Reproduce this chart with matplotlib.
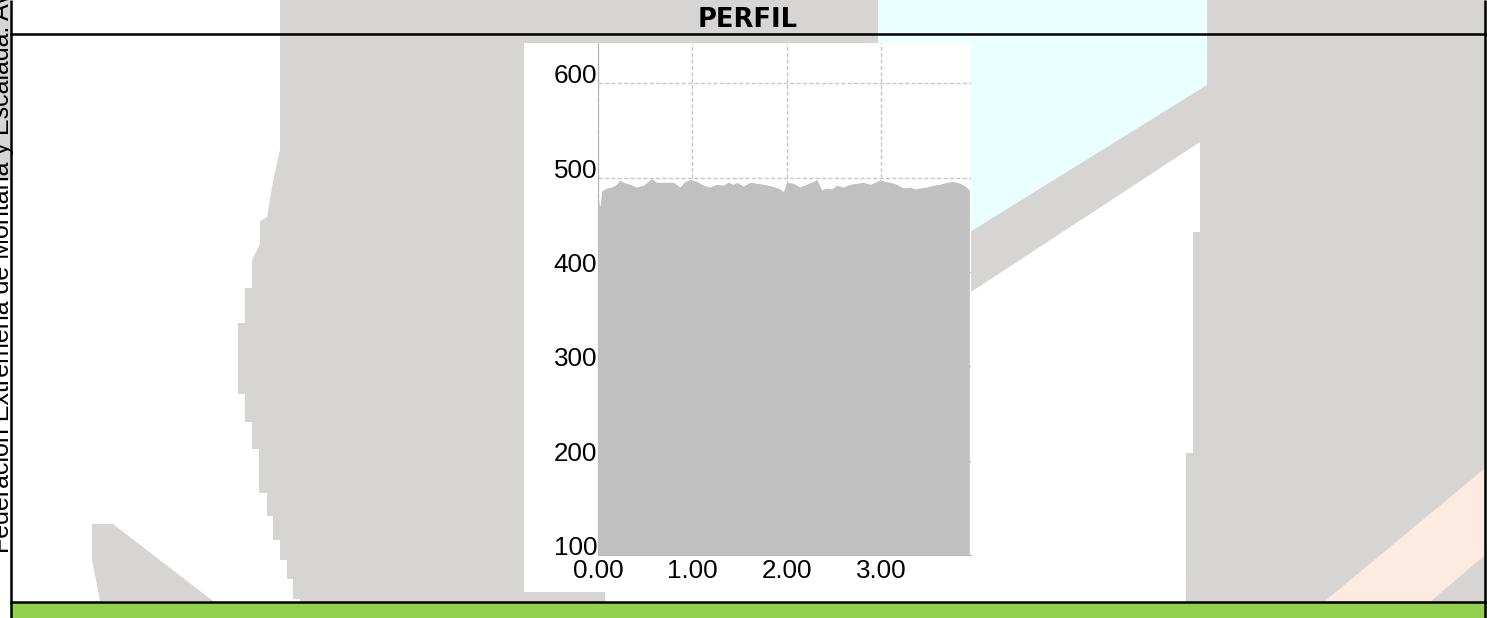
import matplotlib
matplotlib.use('Agg')
import matplotlib.pyplot as plt
from matplotlib.patches import Polygon, Rectangle

# perfil: distancia (km) y altitud (m)
dist = [0.00, 0.02, 0.04, 0.09, 0.145, 0.197, 0.233, 0.269, 0.339, 0.410,
        0.481, 0.534, 0.569, 0.622, 0.693, 0.799, 0.870, 0.923, 0.976, 1.046,
        1.117, 1.188, 1.258, 1.329, 1.382, 1.435, 1.471, 1.541, 1.612, 1.683,
        1.753, 1.824, 1.877, 1.930, 1.965, 2.001, 2.072, 2.142, 2.213, 2.284,
        2.319, 2.372, 2.425, 2.478, 2.531, 2.602, 2.673, 2.743, 2.814, 2.885,
        2.938, 2.991, 3.044, 3.097, 3.167, 3.238, 3.309, 3.362, 3.415, 3.486,
        3.556, 3.627, 3.698, 3.769, 3.839, 3.892, 3.938]
elev = [478, 469, 486, 489, 490, 493, 497.5, 495, 493, 490,
        492, 496, 499, 495, 495, 495, 490, 496, 498, 496,
        492, 490, 493, 492, 495, 493, 495, 491, 495, 494,
        493, 491.5, 490, 488, 485, 495, 494, 490, 493, 496,
        498, 487, 489, 488, 492, 490, 493, 494, 495, 493,
        495, 498, 496, 495, 493, 489, 490, 488, 489, 490,
        492, 493, 495, 496, 494, 491, 487]

yticks = [100, 200, 300, 400, 500, 600]
xticks = [0, 1, 2, 3]
xlabels = ['0.00', '1.00', '2.00', '3.00']

W, H = 1487, 618
fig = plt.figure(figsize=(W / 100, H / 100), dpi=100, facecolor='white')

# fondo (marca de agua del documento), en pixeles
bg = fig.add_axes([0, 0, 1, 1])
bg.set_xlim(0, W)
bg.set_ylim(H, 0)
bg.axis('off')

gris = '#d6d5d3'
curva = [(280, 0), (280, 150), (273, 181), (267, 217), (260, 221), (260, 244),
         (252, 260), (252, 288), (245, 288), (245, 323), (238, 323), (238, 394),
         (245, 394), (245, 422), (252, 422), (252, 449), (259, 449), (259, 493),
         (267, 493), (267, 516), (273, 516), (273, 540), (280, 540), (280, 560),
         (287, 560), (287, 579), (293, 579), (293, 599), (300, 599), (300, H)]
bg.add_patch(Polygon(curva + [(W, H), (W, 0)], closed=True, fc=gris, ec='none'))
bg.add_patch(Polygon([(878, 0), (1207, 0), (1207, 85), (878, 289)], closed=True,
                     fc='#eaffff', ec='none'))
bg.add_patch(Polygon([(971, 292), (1200, 142), (1200, 232), (1193, 232), (1193, 453),
                      (1186, 453), (1186, H), (605, H), (605, 592)], closed=True,
                     fc='white', ec='none'))
bg.add_patch(Polygon([(1325, 601), (1484, 469), (1484, 556), (1431, 601)], closed=True,
                     fc='#fdebe1', ec='none'))
bg.add_patch(Polygon([(92, 524), (113, 524), (213, 601), (100, 601), (92, 560)],
                     closed=True, fc=gris, ec='none'))
bg.add_patch(Rectangle((0, 0), 10, 180, fc=gris, ec='none'))

# caja blanca del grafico
bg.add_patch(Rectangle((524, 43), 447, 549, fc='white', ec='none'))

# bordes de la tabla
bg.add_patch(Rectangle((12, 603), 1472, 15, fc='#92d050', ec='none'))
bg.plot([10, 1487], [33.5, 33.5], color='black', lw=1.8, solid_capstyle='butt')
bg.plot([10, 1487], [601.8, 601.8], color='black', lw=1.8, solid_capstyle='butt')
bg.plot([11.2, 11.2], [0, H], color='black', lw=1.8, solid_capstyle='butt')
bg.plot([1485, 1485], [0, H], color='black', lw=1.8, solid_capstyle='butt')

bg.text(748, 26.7, 'PERFIL', fontsize=18.5, fontweight='bold', family='DejaVu Sans',
        ha='center', va='baseline')
bg.text(8.5, 553, 'Federación Extremeña de Montaña y Escalada. Av',
        rotation=90, rotation_mode='anchor', ha='left', va='baseline',
        fontsize=18, family='Liberation Sans', color='black')

# grafico del perfil
ax = fig.add_axes([598 / W, (H - 555) / H, 373 / W, 512 / H])
ax.set_facecolor('none')
ax.fill_between(dist, elev, 100, color='#c0c0c0', lw=0, zorder=3)
ax.set_xlim(0, 373 / 94.3)
ax.set_ylim(100, 100 + 512 / 0.9434)
ax.set_xticks(xticks)
ax.set_xticklabels(xlabels)
ax.set_yticks(yticks)
ax.grid(True, color='#c8c8c8', linestyle=(0, (3, 1.6)), lw=1)
ax.set_axisbelow(True)
for s in ['top', 'right']:
    ax.spines[s].set_visible(False)
for s in ['left', 'bottom']:
    ax.spines[s].set_color('#b4b4b4')
    ax.spines[s].set_linewidth(0.8)
ax.tick_params(axis='both', length=0, labelsize=18.7, labelcolor='black')
ax.tick_params(axis='x', pad=3.2)
ax.tick_params(axis='y', pad=0.6)
for lab in ax.get_yticklabels():
    lab.set_family('Liberation Sans')
    lab.set_va('baseline')
for lab in ax.get_xticklabels():
    lab.set_family('Liberation Sans')

fig.savefig('out.png', dpi=100, facecolor='white')
